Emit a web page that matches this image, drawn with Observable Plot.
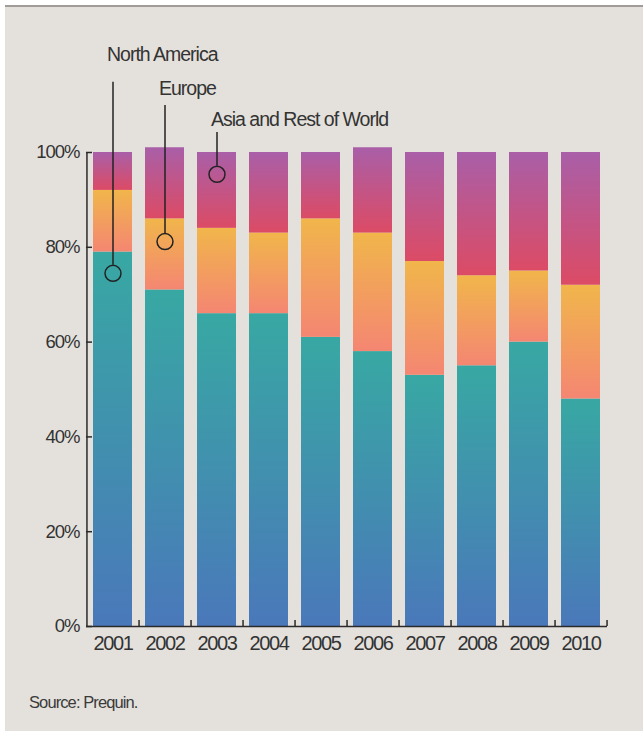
<!DOCTYPE html>
<html><head><meta charset="utf-8">
<script src="https://cdn.jsdelivr.net/npm/d3@7"></script>
<script src="https://cdn.jsdelivr.net/npm/@observablehq/plot@0.6"></script>
<style>
html,body{margin:0;padding:0;background:#fff;}
body{width:643px;height:731px;position:relative;overflow:hidden;font-family:"Liberation Sans",Arial,sans-serif;}
#panel{position:absolute;left:5px;top:5px;width:638px;height:726px;background:#e4e1dc;border-top:2px solid #a29c99;box-sizing:border-box;}
#chart{position:absolute;left:0;top:0;}
#chart svg{letter-spacing:-1px;}
#chart svg g[aria-label="x-axis tick label"]{letter-spacing:-1.4px;}
#chart svg g[aria-label="y-axis tick label"]{letter-spacing:-1px;}
#source{position:absolute;left:29px;top:693px;font-size:16.5px;letter-spacing:-0.9px;color:#3a3a3a;}
</style></head><body>
<div id="panel"></div><div id="chart"></div><div id="source">Source: Prequin.</div>
<script>
const years = ["2001","2002","2003","2004","2005","2006","2007","2008","2009","2010"];
const northAmerica = [79,71,66,66,61,58,53,55,60,48];
const europe = [13,15,18,17,25,25,24,19,15,24];
const asiaRest = [8,15,16,17,14,18,23,26,25,28];
const regions = ["North America","Europe","Asia and Rest of World"];
const yTicks = [0,20,40,60,80,100];
const annotYear = ["2001","2002","2003"];
const annotPoint = [74.5,81.2,95.4];
const annotLineTop = [114.8,109.9,104.2];
const annotLabelY = [120.7,113.5,107.0];

const gradients = [
  {id:"gNA", top:"#38a8a3", bottom:"#4a78ba"},
  {id:"gEU", top:"#f1b64b", bottom:"#f48672"},
  {id:"gAS", top:"#a95fa8", bottom:"#dc4b65"}
];
const font = '"Liberation Sans",Arial,sans-serif';
const W=643, H=670, ML=86, MR=36, MT=152, MB=44;
const half = (W-ML-MR)/years.length/2;
const pxPerUnit = (H-MT-MB)/100;
const series = [northAmerica, europe, asiaRest];
const rows = [];
years.forEach((yr,i)=>{
  series.forEach((s,k)=>rows.push({year:yr, region:regions[k], value:s[i], fill:`url(#${gradients[k].id})`}));
});
const annots = annotYear.map((yr,i)=>({year:yr, point:annotPoint[i], top:annotLineTop[i], labelY:annotLabelY[i], label:regions[i]}));
const rPx = 8;

const svg = Plot.plot({
  width:W, height:H, marginLeft:ML, marginRight:MR, marginTop:MT, marginBottom:MB,
  style:{background:"transparent", fontFamily:font, fontSize:"19.5px", color:"#333"},
  x:{domain:years, paddingInner:0.25, paddingOuter:0.125, label:null},
  y:{domain:[0,100], label:null},
  color:{type:"identity"},
  marks:[
    Plot.barY(rows, {x:"year", y:"value", fill:"fill"}),
    Plot.ruleY([0], {stroke:"#2a2a2a", strokeWidth:1.5}),
    Plot.ruleX([years[0]], {y1:0, y2:100, dx:-half, stroke:"#2a2a2a", strokeWidth:1.5}),
    Plot.ruleX(years, {y1:0, y2:6/pxPerUnit, dx:half, stroke:"#2a2a2a", strokeWidth:1.5}),
    Plot.axisY({ticks:yTicks, tickSize:-6, tickPadding:13, tickFormat:d=>d+"%", fontSize:18.5, label:null, stroke:"#2a2a2a", strokeWidth:1.5}),
    Plot.axisX({tickSize:0, tickPadding:9, fontSize:20, label:null}),
    Plot.ruleX(annots, {x:"year", y1:d=>d.point + rPx/pxPerUnit, y2:"top", stroke:"#222", strokeWidth:1.5}),
    Plot.dot(annots, {x:"year", y:"point", r:rPx, stroke:"#222", strokeWidth:1.5, fill:"none"}),
    Plot.text(annots, {x:"year", y:"labelY", text:"label", textAnchor:"start", dx:-6, fontSize:19.5, fill:"#333"})
  ]
});
const defs = d3.select(svg).insert("defs", ":first-child");
gradients.forEach(g=>{
  const lg = defs.append("linearGradient").attr("id", g.id).attr("x1",0).attr("y1",0).attr("x2",0).attr("y2",1);
  lg.append("stop").attr("offset","0%").attr("stop-color", g.top);
  lg.append("stop").attr("offset","100%").attr("stop-color", g.bottom);
});
document.getElementById("chart").appendChild(svg);
</script>
</body></html>
